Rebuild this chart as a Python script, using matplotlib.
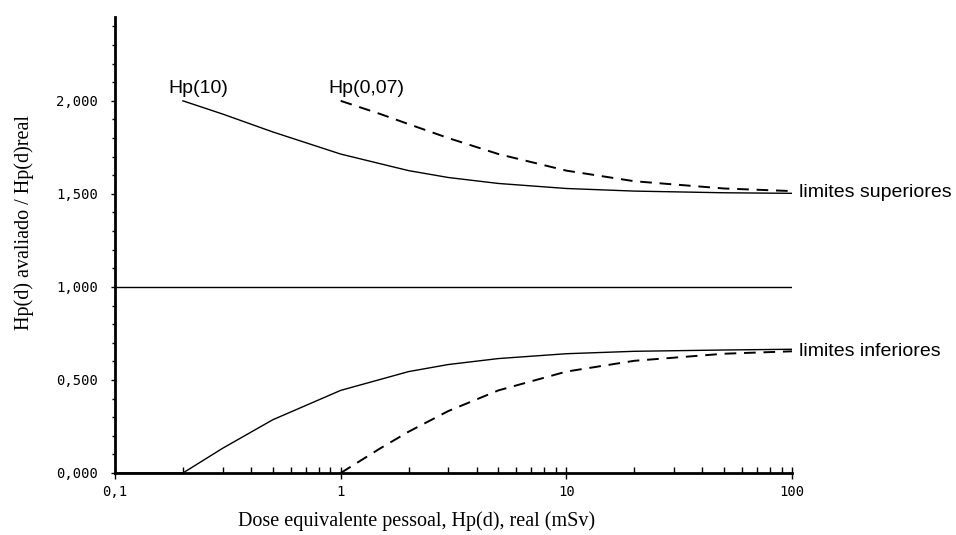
import matplotlib.pyplot as plt
import matplotlib.ticker as mticker

# Hp(10): limites superiores / inferiores
x_hp10_sup = [0.2, 0.3, 0.5, 1, 2, 3, 5, 10, 20, 50, 100]
y_hp10_sup = [2.000, 1.929, 1.833, 1.714, 1.625, 1.588, 1.556, 1.529, 1.515, 1.506, 1.503]
x_hp10_inf = [0.1, 0.2, 0.3, 0.5, 1, 2, 3, 5, 10, 20, 50, 100]
y_hp10_inf = [0.000, 0.000, 0.133, 0.286, 0.444, 0.545, 0.583, 0.615, 0.641, 0.654, 0.661, 0.665]

# Hp(0,07): limites superiores / inferiores
x_hp007_sup = [1, 1.5, 2, 3, 5, 10, 20, 50, 100]
y_hp007_sup = [2.000, 1.929, 1.875, 1.800, 1.714, 1.625, 1.568, 1.529, 1.515]
x_hp007_inf = [1, 1.5, 2, 3, 5, 10, 20, 50, 100]
y_hp007_inf = [0.000, 0.133, 0.222, 0.333, 0.444, 0.545, 0.603, 0.641, 0.654]

x_ref = [0.1, 100]
y_ref = [1.0, 1.0]

y_ticks = [0.0, 0.5, 1.0, 1.5, 2.0]
y_tick_labels = ['0,000', '0,500', '1,000', '1,500', '2,000']
x_ticks = [0.1, 1, 10, 100]
x_tick_labels = ['0,1', '1', '10', '100']

fig = plt.figure(figsize=(9.56, 5.35), dpi=100)
ax = fig.add_axes([0.1203, 0.1159, 0.7082, 0.8521])

ax.plot(x_hp10_sup, y_hp10_sup, color='black', lw=1.0)
ax.plot(x_hp10_inf, y_hp10_inf, color='black', lw=1.0)
ax.plot(x_hp007_sup, y_hp007_sup, color='black', lw=1.4, dashes=(6, 4))
ax.plot(x_hp007_inf, y_hp007_inf, color='black', lw=1.4, dashes=(6, 4))
ax.plot(x_ref, y_ref, color='black', lw=1.0)

ax.set_xscale('log')
ax.set_xlim(0.1, 100)
ax.set_ylim(0, 2.45)

ax.set_xticks(x_ticks)
ax.set_xticklabels(x_tick_labels, family='DejaVu Sans Mono')
ax.xaxis.set_minor_locator(mticker.LogLocator(base=10, subs=range(2, 10)))
ax.xaxis.set_minor_formatter(mticker.NullFormatter())
ax.set_yticks(y_ticks)
ax.set_yticklabels(y_tick_labels, family='DejaVu Sans Mono')
ax.yaxis.set_minor_locator(mticker.MultipleLocator(0.1))

for s in ['top', 'right']:
    ax.spines[s].set_visible(False)
for s in ['left', 'bottom']:
    ax.spines[s].set_linewidth(2)

ax.tick_params(axis='x', which='major', direction='inout', length=8, width=1,
               labelsize=10, pad=5)
ax.tick_params(axis='x', which='minor', direction='in', length=4, width=1)
ax.tick_params(axis='y', which='major', direction='out', length=3, width=1,
               labelsize=10, pad=9)
ax.tick_params(axis='y', which='minor', direction='out', length=2, width=1)

ax.text(0.234, 2.02, 'Hp(10)', fontsize=14, family='Liberation Sans',
        ha='center', va='bottom')
ax.text(0.88, 2.02, 'Hp(0,07)', fontsize=14, family='Liberation Sans',
        ha='left', va='bottom')
ax.text(107, 1.51, 'limites superiores', fontsize=14, family='Liberation Sans',
        ha='left', va='center', clip_on=False)
ax.text(107, 0.655, 'limites inferiores', fontsize=14, family='Liberation Sans',
        ha='left', va='center', clip_on=False)

ax.set_xlabel('Dose equivalente pessoal, Hp(d), real (mSv)', family='Liberation Serif',
              fontsize=14.5)
ax.xaxis.set_label_coords(0.446, -0.083)
ax.set_ylabel('Hp(d) avaliado / Hp(d)real', family='Liberation Serif',
              fontsize=14.5)
ax.yaxis.set_label_coords(-0.119, 0.55)

fig.savefig('out.png', dpi=100)
